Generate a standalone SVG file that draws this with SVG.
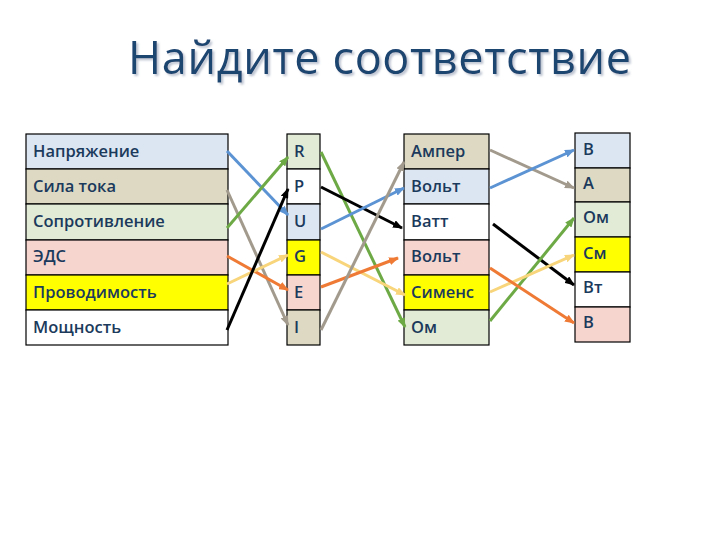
<svg xmlns="http://www.w3.org/2000/svg" width="720" height="540" viewBox="0 0 720 540">
<defs>
<style>
.c{stroke:#000;stroke-width:1.2}
.t{font-family:"Open Sans","Noto Sans",sans-serif;font-size:16.5px;font-weight:600;fill:#1b3a5c}
.blue{fill:#dce6f2}.tan{fill:#ddd9c3}.green{fill:#e2ebd6}.pink{fill:#f6d5cf}.yel{fill:#ffff00}.wh{fill:#ffffff}
.ln{fill:none;stroke-width:3}
</style>
<filter id="sh" x="-5%" y="-20%" width="110%" height="150%"><feDropShadow dx="2" dy="2" stdDeviation="1" flood-color="#8f9bb0" flood-opacity="0.6"/></filter>
<marker id="aBlue" markerWidth="10" markerHeight="8" refX="9" refY="4" orient="auto" markerUnits="userSpaceOnUse"><path d="M0,0 L10,4 L0,8 Z" fill="#5b93d3"/></marker>
<marker id="aGray" markerWidth="10" markerHeight="8" refX="9" refY="4" orient="auto" markerUnits="userSpaceOnUse"><path d="M0,0 L10,4 L0,8 Z" fill="#a29a8c"/></marker>
<marker id="aGreen" markerWidth="10" markerHeight="8" refX="9" refY="4" orient="auto" markerUnits="userSpaceOnUse"><path d="M0,0 L10,4 L0,8 Z" fill="#6daa45"/></marker>
<marker id="aOrange" markerWidth="10" markerHeight="8" refX="9" refY="4" orient="auto" markerUnits="userSpaceOnUse"><path d="M0,0 L10,4 L0,8 Z" fill="#ee7a35"/></marker>
<marker id="aYellow" markerWidth="10" markerHeight="8" refX="9" refY="4" orient="auto" markerUnits="userSpaceOnUse"><path d="M0,0 L10,4 L0,8 Z" fill="#f8d57a"/></marker>
<marker id="aBlack" markerWidth="10" markerHeight="8" refX="9" refY="4" orient="auto" markerUnits="userSpaceOnUse"><path d="M0,0 L10,4 L0,8 Z" fill="#000"/></marker>
</defs>
<rect width="720" height="540" fill="#fff"/>
<text x="128" y="74" font-family="Open Sans,'Noto Sans',sans-serif" font-size="45" fill="#1f4470" textLength="503" filter="url(#sh)">Найдите соответствие</text>

<g id="col1">
<g id="n1-1"><rect class="c blue" x="26" y="134" width="202" height="35"/><text class="t" x="33" y="157">Напряжение</text></g>
<g id="n1-2"><rect class="c tan" x="26" y="169" width="202" height="35"/><text class="t" x="33" y="192">Сила тока</text></g>
<g id="n1-3"><rect class="c green" x="26" y="204" width="202" height="36"/><text class="t" x="33" y="227">Сопротивление</text></g>
<g id="n1-4"><rect class="c pink" x="26" y="240" width="202" height="35"/><text class="t" x="33" y="262">ЭДС</text></g>
<g id="n1-5"><rect class="c yel" x="26" y="275" width="202" height="35"/><text class="t" x="33" y="298">Проводимость</text></g>
<g id="n1-6"><rect class="c wh" x="26" y="310" width="202" height="35"/><text class="t" x="33" y="333">Мощность</text></g>
</g>

<g id="col2">
<g id="n2-1"><rect class="c green" x="287" y="134" width="33" height="35"/><text class="t" x="294" y="157">R</text></g>
<g id="n2-2"><rect class="c wh" x="287" y="169" width="33" height="35"/><text class="t" x="294" y="192">P</text></g>
<g id="n2-3"><rect class="c blue" x="287" y="204" width="33" height="36"/><text class="t" x="294" y="227">U</text></g>
<g id="n2-4"><rect class="c yel" x="287" y="240" width="33" height="35"/><text class="t" x="294" y="262">G</text></g>
<g id="n2-5"><rect class="c pink" x="287" y="275" width="33" height="35"/><text class="t" x="294" y="298">E</text></g>
<g id="n2-6"><rect class="c tan" x="287" y="310" width="33" height="35"/><text class="t" x="294" y="333">I</text></g>
</g>

<g id="col3">
<g id="n3-1"><rect class="c tan" x="404" y="134" width="85" height="35"/><text class="t" x="411" y="157">Ампер</text></g>
<g id="n3-2"><rect class="c blue" x="404" y="169" width="85" height="35"/><text class="t" x="411" y="192">Вольт</text></g>
<g id="n3-3"><rect class="c wh" x="404" y="204" width="85" height="36"/><text class="t" x="411" y="227">Ватт</text></g>
<g id="n3-4"><rect class="c pink" x="404" y="240" width="85" height="35"/><text class="t" x="411" y="262">Вольт</text></g>
<g id="n3-5"><rect class="c yel" x="404" y="275" width="85" height="35"/><text class="t" x="411" y="298">Сименс</text></g>
<g id="n3-6"><rect class="c green" x="404" y="310" width="85" height="35"/><text class="t" x="411" y="333">Ом</text></g>
</g>

<g id="col4">
<g id="n4-1"><rect class="c blue" x="575" y="133" width="55" height="35"/><text class="t" x="583" y="155">В</text></g>
<g id="n4-2"><rect class="c tan" x="575" y="168" width="55" height="34"/><text class="t" x="583" y="189">А</text></g>
<g id="n4-3"><rect class="c green" x="575" y="202" width="55" height="35"/><text class="t" x="583" y="223">Ом</text></g>
<g id="n4-4"><rect class="c yel" x="575" y="237" width="55" height="35"/><text class="t" x="583" y="259">См</text></g>
<g id="n4-5"><rect class="c wh" x="575" y="272" width="55" height="35"/><text class="t" x="583" y="293">Вт</text></g>
<g id="n4-6"><rect class="c pink" x="575" y="307" width="55" height="35"/><text class="t" x="583" y="328">В</text></g>
</g>

<g id="connectors">
<line class="ln" x1="227" y1="151" x2="288" y2="215" stroke="#5b93d3" marker-end="url(#aBlue)"/>
<line class="ln" x1="227" y1="190" x2="288" y2="325" stroke="#a29a8c" marker-end="url(#aGray)"/>
<line class="ln" x1="227" y1="228" x2="288" y2="157" stroke="#6daa45" marker-end="url(#aGreen)"/>
<line class="ln" x1="227" y1="256" x2="288" y2="290" stroke="#ee7a35" marker-end="url(#aOrange)"/>
<line class="ln" x1="227" y1="284" x2="288" y2="255" stroke="#f8d57a" marker-end="url(#aYellow)"/>
<line class="ln" x1="227" y1="330" x2="288" y2="189" stroke="#000" marker-end="url(#aBlack)"/>

<line class="ln" x1="321" y1="152" x2="405" y2="327" stroke="#6daa45" marker-end="url(#aGreen)"/>
<line class="ln" x1="321" y1="187" x2="402" y2="228" stroke="#000" marker-end="url(#aBlack)"/>
<line class="ln" x1="321" y1="229" x2="404" y2="188" stroke="#5b93d3" marker-end="url(#aBlue)"/>
<line class="ln" x1="321" y1="252" x2="405" y2="295" stroke="#f8d57a" marker-end="url(#aYellow)"/>
<line class="ln" x1="321" y1="287" x2="398" y2="258" stroke="#ee7a35" marker-end="url(#aOrange)"/>
<line class="ln" x1="321" y1="330" x2="404" y2="162" stroke="#a29a8c" marker-end="url(#aGray)"/>

<line class="ln" x1="490" y1="150" x2="574" y2="188" stroke="#a29a8c" marker-end="url(#aGray)"/>
<line class="ln" x1="490" y1="188" x2="574" y2="150" stroke="#5b93d3" marker-end="url(#aBlue)"/>
<line class="ln" x1="493" y1="224" x2="574" y2="285" stroke="#000" marker-end="url(#aBlack)"/>
<line class="ln" x1="490" y1="321" x2="574" y2="218" stroke="#6daa45" marker-end="url(#aGreen)"/>
<line class="ln" x1="490" y1="292" x2="574" y2="255" stroke="#f8d57a" marker-end="url(#aYellow)"/>
<line class="ln" x1="490" y1="268" x2="574" y2="323" stroke="#ee7a35" marker-end="url(#aOrange)"/>
</g>
</svg>
